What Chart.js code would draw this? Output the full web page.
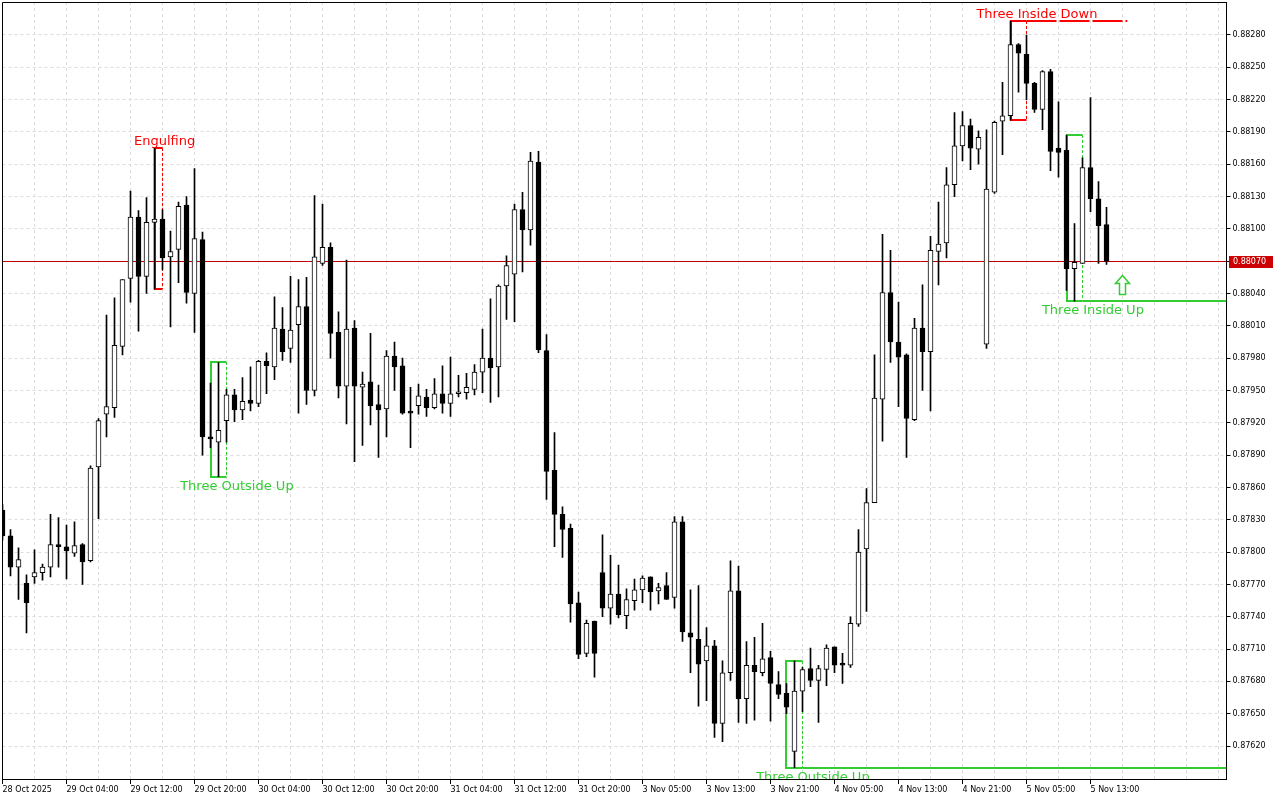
<!DOCTYPE html>
<html>
<head>
<meta charset="utf-8">
<title>H1 candlestick patterns</title>
<script src="https://cdn.jsdelivr.net/npm/chart.js@4.4.1/dist/chart.umd.min.js"></script>
<style>
  html, body { margin: 0; padding: 0; background: #ffffff; }
  canvas { display: block; }
</style>
</head>
<body>
<canvas id="priceChart" width="1280" height="800"></canvas>
<script>
// ── Data ──────────────────────────────────────────────────────────────────
// One H1 candle per entry, 28 Oct 20:00 → 5 Nov 15:00
var opens = [
  0.87839, 0.87815, 0.87786, 0.87771, 0.87777, 0.87781, 0.87786, 0.87807, 0.87805, 0.87799,
  0.87807, 0.87792, 0.87879, 0.87928, 0.87934, 0.87991, 0.88054, 0.88111, 0.88056, 0.88106,
  0.88109, 0.88074, 0.88081, 0.88122, 0.88040, 0.88090, 0.87907, 0.87902, 0.87922, 0.87946,
  0.87932, 0.87941, 0.87938, 0.87977, 0.87972, 0.88007, 0.87989, 0.88011, 0.88028, 0.87950,
  0.88068, 0.88083, 0.88004, 0.87954, 0.88008, 0.87953, 0.87958, 0.87937, 0.87933, 0.87982,
  0.87973, 0.87930, 0.87936, 0.87944, 0.87934, 0.87947, 0.87938, 0.87947, 0.87948, 0.87951,
  0.87967, 0.87980, 0.87972, 0.88047, 0.88058, 0.88118, 0.88099, 0.88162, 0.87987, 0.87876,
  0.87835, 0.87822, 0.87753, 0.87706, 0.87736, 0.87781, 0.87748, 0.87761, 0.87741, 0.87755,
  0.87765, 0.87777, 0.87764, 0.87769, 0.87758, 0.87828, 0.87725, 0.87719, 0.87699, 0.87713,
  0.87641, 0.87688, 0.87764, 0.87664, 0.87695, 0.87688, 0.87702, 0.87677, 0.87669, 0.87615,
  0.87671, 0.87692, 0.87681, 0.87691, 0.87712, 0.87697, 0.87695, 0.87733, 0.87803, 0.87846,
  0.87942, 0.88041, 0.87995, 0.87983, 0.87923, 0.88008, 0.87986, 0.88079, 0.88087, 0.88141,
  0.88177, 0.88196, 0.88174, 0.87993, 0.88134, 0.88200, 0.88205, 0.88271, 0.88262, 0.88235,
  0.88211, 0.88246, 0.88175, 0.88173, 0.88063, 0.88068, 0.88157, 0.88128, 0.88104
];
var highs = [
  0.87844, 0.87821, 0.87804, 0.87779, 0.87802, 0.87789, 0.87835, 0.87832, 0.87825, 0.87828,
  0.87808, 0.87880, 0.87924, 0.88020, 0.88036, 0.88053, 0.88135, 0.88117, 0.88129, 0.88175,
  0.88118, 0.88098, 0.88125, 0.88130, 0.88156, 0.88097, 0.87957, 0.87976, 0.87951, 0.87951,
  0.87962, 0.87972, 0.87978, 0.87985, 0.88037, 0.88027, 0.88056, 0.88053, 0.88055, 0.88131,
  0.88123, 0.88087, 0.88023, 0.88071, 0.88015, 0.87967, 0.88003, 0.87955, 0.87987, 0.87995,
  0.87980, 0.87953, 0.87956, 0.87951, 0.87961, 0.87973, 0.87981, 0.87964, 0.87966, 0.87974,
  0.88007, 0.88035, 0.88048, 0.88075, 0.88123, 0.88134, 0.88171, 0.88172, 0.88002, 0.87911,
  0.87842, 0.87826, 0.87763, 0.87737, 0.87736, 0.87816, 0.87797, 0.87788, 0.87766, 0.87775,
  0.87778, 0.87777, 0.87771, 0.87781, 0.87833, 0.87833, 0.87765, 0.87769, 0.87730, 0.87718,
  0.87699, 0.87792, 0.87787, 0.87717, 0.87721, 0.87734, 0.87708, 0.87689, 0.87678, 0.87699,
  0.87693, 0.87711, 0.87695, 0.87714, 0.87712, 0.87706, 0.87740, 0.87821, 0.87859, 0.87983,
  0.88095, 0.88080, 0.88032, 0.87984, 0.88017, 0.88048, 0.88093, 0.88125, 0.88157, 0.88208,
  0.88209, 0.88202, 0.88191, 0.88192, 0.88200, 0.88236, 0.88293, 0.88272, 0.88280, 0.88236,
  0.88247, 0.88248, 0.88218, 0.88187, 0.88105, 0.88166, 0.88222, 0.88144, 0.88120
];
var lows = [
  0.87811, 0.87778, 0.87756, 0.87725, 0.87771, 0.87774, 0.87777, 0.87786, 0.87775, 0.87796,
  0.87770, 0.87791, 0.87831, 0.87907, 0.87925, 0.87983, 0.88032, 0.88005, 0.88040, 0.88044,
  0.88062, 0.88009, 0.88050, 0.88031, 0.88004, 0.87890, 0.87897, 0.87870, 0.87902, 0.87921,
  0.87923, 0.87931, 0.87935, 0.87947, 0.87960, 0.87978, 0.87976, 0.87929, 0.87937, 0.87945,
  0.88066, 0.87980, 0.87943, 0.87919, 0.87884, 0.87899, 0.87918, 0.87888, 0.87907, 0.87950,
  0.87928, 0.87897, 0.87928, 0.87926, 0.87933, 0.87929, 0.87926, 0.87944, 0.87942, 0.87946,
  0.87948, 0.87939, 0.87944, 0.88016, 0.88014, 0.88060, 0.88085, 0.87985, 0.87849, 0.87805,
  0.87795, 0.87735, 0.87701, 0.87703, 0.87684, 0.87740, 0.87733, 0.87739, 0.87729, 0.87746,
  0.87753, 0.87746, 0.87752, 0.87756, 0.87748, 0.87717, 0.87688, 0.87657, 0.87662, 0.87628,
  0.87624, 0.87681, 0.87642, 0.87641, 0.87644, 0.87685, 0.87643, 0.87664, 0.87650, 0.87600,
  0.87652, 0.87675, 0.87642, 0.87676, 0.87688, 0.87678, 0.87693, 0.87731, 0.87745, 0.87846,
  0.87903, 0.87976, 0.87935, 0.87888, 0.87922, 0.87950, 0.87931, 0.88048, 0.88073, 0.88130,
  0.88163, 0.88155, 0.88160, 0.87989, 0.88133, 0.88169, 0.88201, 0.88227, 0.88220, 0.88208,
  0.88192, 0.88154, 0.88148, 0.88043, 0.88033, 0.88068, 0.88116, 0.88068, 0.88067
];
var closes = [
  0.87815, 0.87786, 0.87793, 0.87753, 0.87781, 0.87786, 0.87807, 0.87805, 0.87801, 0.87806,
  0.87791, 0.87878, 0.87922, 0.87935, 0.87992, 0.88053, 0.88111, 0.88056, 0.88106, 0.88109,
  0.88073, 0.88079, 0.88121, 0.88041, 0.88091, 0.87907, 0.87905, 0.87913, 0.87946, 0.87932,
  0.87940, 0.87938, 0.87977, 0.87973, 0.88008, 0.87986, 0.88006, 0.88028, 0.87950, 0.88074,
  0.88083, 0.88003, 0.87954, 0.88007, 0.87954, 0.87956, 0.87936, 0.87932, 0.87982, 0.87972,
  0.87929, 0.87929, 0.87945, 0.87934, 0.87947, 0.87938, 0.87947, 0.87948, 0.87953, 0.87967,
  0.87980, 0.87971, 0.88047, 0.88066, 0.88118, 0.88099, 0.88163, 0.87988, 0.87875, 0.87835,
  0.87821, 0.87752, 0.87705, 0.87734, 0.87706, 0.87748, 0.87761, 0.87742, 0.87756, 0.87765,
  0.87776, 0.87763, 0.87767, 0.87756, 0.87828, 0.87726, 0.87721, 0.87696, 0.87713, 0.87641,
  0.87688, 0.87764, 0.87664, 0.87695, 0.87689, 0.87701, 0.87678, 0.87668, 0.87656, 0.87671,
  0.87691, 0.87681, 0.87692, 0.87711, 0.87695, 0.87695, 0.87734, 0.87800, 0.87846, 0.87943,
  0.88041, 0.87995, 0.87981, 0.87924, 0.88008, 0.87986, 0.88080, 0.88086, 0.88141, 0.88177,
  0.88196, 0.88175, 0.88185, 0.88137, 0.88199, 0.88205, 0.88271, 0.88263, 0.88235, 0.88211,
  0.88246, 0.88172, 0.88171, 0.88063, 0.88069, 0.88157, 0.88128, 0.88103, 0.88070
];

// Time axis: a label every 8 candles, starting at candle 0
var xTickLabels = [
  '28 Oct 2025', '29 Oct 04:00', '29 Oct 12:00', '29 Oct 20:00', '30 Oct 04:00',
  '30 Oct 12:00', '30 Oct 20:00', '31 Oct 04:00', '31 Oct 12:00', '31 Oct 20:00',
  '3 Nov 05:00', '3 Nov 13:00', '3 Nov 21:00', '4 Nov 05:00', '4 Nov 13:00',
  '4 Nov 21:00', '5 Nov 05:00', '5 Nov 13:00'
];
var yTicks = [
  0.87620, 0.87650, 0.87680, 0.87710, 0.87740, 0.87770, 0.87800, 0.87830,
  0.87860, 0.87890, 0.87920, 0.87950, 0.87980, 0.88010, 0.88040, 0.88070,
  0.88100, 0.88130, 0.88160, 0.88190, 0.88220, 0.88250, 0.88280
];
var yMin = 0.875894;
var yMax = 0.883106;

// Detected patterns (candle index ranges)
var patternNames   = ['Engulfing', 'Three Outside Up', 'Three Outside Up', 'Three Inside Down', 'Three Inside Up'];
var patternStart   = [19, 26, 98, 126, 133];
var patternEnd     = [20, 28, 100, 128, 135];
var patternBull    = [false, true, true, false, true];
var patternLabelAt = [20.27, 29.3, 101.3, 129.3, 136.3];
var patternLineTo  = [null, null, 153, 140.6, 153];

var arrowIndex = 140;
var arrowPrice = 0.88057;

// ── Setup ─────────────────────────────────────────────────────────────────
var chartShift = 15;                       // empty slots right of last candle
var slotCount  = opens.length + chartShift;
var slots = [];
for (var s = 0; s < slotCount; s++) slots.push(s);

var lastPrice = closes[closes.length - 1];

var GREEN    = '#32CD32';
var RED      = '#FF0000';
var GRID_COL = '#DCDCDC';

Chart.defaults.font.family = '"DejaVu Sans", sans-serif';
Chart.defaults.font.size = 8;
Chart.defaults.color = '#000000';

var bodyColors = opens.map(function(o, i) {
  return closes[i] >= o ? '#ffffff' : '#000000';
});

// ── Overlay: price line, pattern boxes, labels, frame ─────────────────────
var overlayPlugin = {
  id: 'overlay',
  beforeDatasetsDraw: function(chart) {
    var ctx = chart.ctx, area = chart.chartArea;
    var xs = chart.scales.x, ys = chart.scales.y;
    ctx.save();
    ctx.beginPath();
    ctx.rect(area.left, area.top, area.right - area.left, area.bottom - area.top);
    ctx.clip();

    var py = Math.round(ys.getPixelForValue(lastPrice)) + 0.5;
    ctx.strokeStyle = '#C00000';
    ctx.lineWidth = 1;
    ctx.beginPath();
    ctx.moveTo(area.left, py);
    ctx.lineTo(area.right, py);
    ctx.stroke();

    patternNames.forEach(function(name, k) {
      var s = patternStart[k], e = patternEnd[k];
      var hi = Math.max.apply(null, highs.slice(s, e + 1));
      var lo = Math.min.apply(null, lows.slice(s, e + 1));
      var x1 = Math.round(xs.getPixelForValue(s));
      var x2 = xs.getPixelForValue(e);
      var y1 = Math.round(ys.getPixelForValue(hi));
      var y2 = Math.round(ys.getPixelForValue(lo));
      var col = patternBull[k] ? GREEN : RED;

      ctx.strokeStyle = col;
      ctx.lineWidth = 2;
      ctx.setLineDash([]);
      ctx.beginPath();
      ctx.moveTo(x2, y1);
      ctx.lineTo(x1, y1);
      ctx.lineTo(x1, y2);
      ctx.lineTo(x2, y2);
      ctx.stroke();

      ctx.lineWidth = 1;
      ctx.setLineDash([3, 2]);
      ctx.beginPath();
      ctx.moveTo(x2, y1);
      ctx.lineTo(x2, y2);
      ctx.stroke();

      if (patternLineTo[k] !== null) {
        var ly = patternBull[k] ? y2 : y1;
        var xEnd = patternLineTo[k] >= slotCount - 1 ? area.right : xs.getPixelForValue(patternLineTo[k]);
        ctx.lineWidth = 2;
        ctx.setLineDash(patternBull[k] ? [] : [30, 3]);
        ctx.beginPath();
        ctx.moveTo(x2, ly);
        ctx.lineTo(xEnd, ly);
        ctx.stroke();
      }
    });
    ctx.restore();
  },

  afterDatasetsDraw: function(chart) {
    var ctx = chart.ctx, area = chart.chartArea;
    var xs = chart.scales.x, ys = chart.scales.y;
    ctx.save();
    ctx.beginPath();
    ctx.rect(area.left, area.top, area.right - area.left, area.bottom - area.top);
    ctx.clip();

    ctx.font = '13px "DejaVu Sans", sans-serif';
    ctx.textAlign = 'center';
    ctx.textBaseline = 'alphabetic';
    patternNames.forEach(function(name, k) {
      var s = patternStart[k], e = patternEnd[k];
      var hi = Math.max.apply(null, highs.slice(s, e + 1));
      var lo = Math.min.apply(null, lows.slice(s, e + 1));
      var tx = xs.getPixelForValue(patternLabelAt[k]);
      var ty = patternBull[k]
        ? Math.round(ys.getPixelForValue(lo)) + 13
        : Math.round(ys.getPixelForValue(hi)) - 3;
      ctx.fillStyle = patternBull[k] ? GREEN : RED;
      ctx.fillText(name, tx, ty);
    });

    // Hollow up arrow for the last signal
    var ax = xs.getPixelForValue(arrowIndex);
    var ay = Math.round(ys.getPixelForValue(arrowPrice)) + 0.5;
    ctx.beginPath();
    ctx.moveTo(ax, ay);
    ctx.lineTo(ax + 7, ay + 8);
    ctx.lineTo(ax + 3, ay + 8);
    ctx.lineTo(ax + 3, ay + 19);
    ctx.lineTo(ax - 3, ay + 19);
    ctx.lineTo(ax - 3, ay + 8);
    ctx.lineTo(ax - 7, ay + 8);
    ctx.closePath();
    ctx.fillStyle = '#ffffff';
    ctx.fill();
    ctx.strokeStyle = GREEN;
    ctx.lineWidth = 1.5;
    ctx.stroke();
    ctx.restore();
  },

  afterDraw: function(chart) {
    var ctx = chart.ctx, area = chart.chartArea;
    var ys = chart.scales.y;
    ctx.save();
    ctx.strokeStyle = '#000000';
    ctx.lineWidth = 1;
    ctx.beginPath();
    ctx.moveTo(Math.floor(area.left) + 0.5, Math.floor(area.bottom) + 0.5);
    ctx.lineTo(Math.floor(area.left) + 0.5, Math.floor(area.top) + 0.5);
    ctx.lineTo(Math.floor(area.right) + 0.5, Math.floor(area.top) + 0.5);
    ctx.stroke();

    // Current price tag
    var py = Math.round(ys.getPixelForValue(lastPrice));
    var bx = Math.round(area.right) + 2;
    ctx.fillStyle = '#CC0000';
    ctx.fillRect(bx, py - 5, 44, 12);
    ctx.fillStyle = '#ffffff';
    ctx.font = '8px "DejaVu Sans", sans-serif';
    ctx.textAlign = 'left';
    ctx.textBaseline = 'middle';
    ctx.fillText(lastPrice.toFixed(5), bx + 4, py + 1);
    ctx.restore();
  }
};

// ── Chart ─────────────────────────────────────────────────────────────────
new Chart(document.getElementById('priceChart'), {
  type: 'bar',
  data: {
    labels: slots,
    datasets: [
      {
        label:           'Body',
        data:            opens.map(function(o, i) { return [o, closes[i]]; }),
        backgroundColor: bodyColors,
        borderColor:     '#000000',
        borderWidth:     1,
        borderSkipped:   false,
        barThickness:    5,
        minBarLength:    2,
        grouped:         false,
        order:           0,
        clip:            0
      },
      {
        label:           'Wick',
        data:            lows.map(function(l, i) { return [l, highs[i]]; }),
        backgroundColor: '#000000',
        borderWidth:     0,
        barThickness:    1,
        grouped:         false,
        order:           1,
        clip:            0
      }
    ]
  },
  options: {
    responsive: false,
    animation:  false,
    events:     [],
    layout: { padding: { left: 2.5, top: 2, right: 0, bottom: 0 } },
    plugins: {
      legend:  { display: false },
      tooltip: { enabled: false }
    },
    scales: {
      x: {
        type:   'category',
        offset: false,
        grid: {
          offset:     false,
          color:      function(c) { return c.index % 4 === 0 ? GRID_COL : 'rgba(0,0,0,0)'; },
          lineWidth:  function(c) { return c.index % 4 === 0 ? 1 : 0; },
          tickColor:  function(c) { return c.index % 8 === 0 && c.index / 8 < xTickLabels.length ? '#000000' : 'rgba(0,0,0,0)'; },
          tickWidth:  function(c) { return c.index % 8 === 0 && c.index / 8 < xTickLabels.length ? 1 : 0; },
          tickLength: 5
        },
        border: { display: true, color: '#000000', width: 1, dash: [3, 3] },
        ticks: {
          autoSkip:    false,
          maxRotation: 0,
          minRotation: 0,
          align:       'start',
          padding:     1,
          color:       '#000000',
          callback: function(v, i) {
            if (i % 8 === 0 && i / 8 < xTickLabels.length) return xTickLabels[i / 8];
            return '';
          }
        },
        afterFit: function(scale) {
          scale.height = 21;
          scale.paddingLeft = 0;
          scale.paddingRight = 0;
        }
      },
      y: {
        type:     'linear',
        position: 'right',
        min:      yMin,
        max:      yMax,
        grid: {
          color:      GRID_COL,
          lineWidth:  1,
          tickColor:  '#000000',
          tickLength: 4
        },
        border: { display: true, color: '#000000', width: 1, dash: [3, 3] },
        ticks: {
          padding: 2,
          color:   '#000000',
          callback: function(v) { return Number(v).toFixed(5); }
        },
        afterBuildTicks: function(scale) {
          scale.ticks = yTicks.map(function(v) { return { value: v }; });
        },
        afterFit: function(scale) {
          scale.width = 53.5;
          scale.paddingTop = 0;
          scale.paddingBottom = 0;
        }
      }
    }
  },
  plugins: [overlayPlugin]
});
</script>
</body>
</html>
